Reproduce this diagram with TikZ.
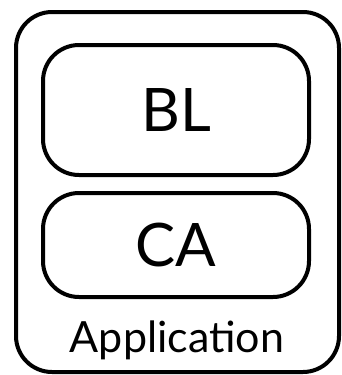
\documentclass[tikz,border=0pt]{standalone}
\usepackage{fontspec}
\setmainfont{Lato}
\usepackage{tikz}

\tikzset{
  layerbox/.style={draw, line width=4pt, rounded corners=36pt, inner sep=0pt},
  layertext/.style={inner sep=0pt, font=\fontsize{60}{60}\selectfont}
}

\begin{document}
\begin{tikzpicture}[x=1pt,y=1pt,yscale=-1,xscale=1]
\useasboundingbox (0,0) rectangle (342,375);

%Rounded Rect [outer]
\node [layerbox, minimum width=323pt, minimum height=360pt] (app) at (177.5,192) {};
%Rounded Rect [BL]
\node [layerbox, minimum width=266pt, minimum height=130pt] (bl) at (176,110) {};
%Rounded Rect [CA]
\node [layerbox, minimum width=266pt, minimum height=104pt] (ca) at (176,245) {};

% Text Node
\node [layertext] at (bl.center) {BL};
% Text Node
\node [layertext] at (ca.center) {CA};
% Text Node
\node [inner sep=0pt, anchor=base, font=\fontsize{43}{43}\selectfont] (applabel) at (177,352) {Application};

\end{tikzpicture}
\end{document}
